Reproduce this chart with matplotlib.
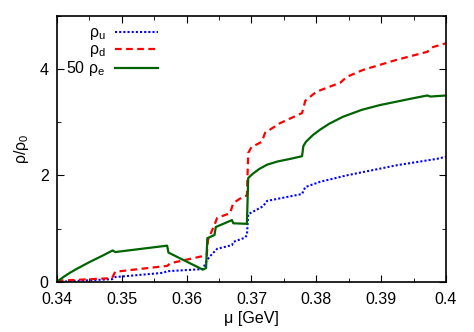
import numpy as np
import matplotlib
matplotlib.use('Agg')
import matplotlib.pyplot as plt
from matplotlib.ticker import MultipleLocator

plt.rcParams['font.family'] = ['Liberation Sans', 'DejaVu Sans']
plt.rcParams['mathtext.fontset'] = 'custom'
plt.rcParams['mathtext.rm'] = 'Liberation Sans'

# rho_u (blue dotted)
mu_u = [0.3400, 0.3485, 0.3490, 0.3564, 0.3570, 0.3625, 0.3631, 0.3636, 0.3647,
        0.3670, 0.3672, 0.3690, 0.3693, 0.3695, 0.3718, 0.3724, 0.3778, 0.3783,
        0.3806, 0.3847, 0.3924, 0.3986, 0.4000]
rho_u = [0.00, 0.05, 0.09, 0.17, 0.20, 0.24, 0.40, 0.48, 0.62,
         0.69, 0.75, 0.83, 0.88, 1.27, 1.42, 1.52, 1.65, 1.78,
         1.88, 2.00, 2.19, 2.31, 2.35]

# rho_d (red dashed)
mu_d = [0.3400, 0.3485, 0.3490, 0.3570, 0.3575, 0.3631, 0.3633, 0.3644, 0.3647,
        0.3667, 0.3672, 0.3687, 0.3693, 0.3695, 0.3700, 0.3716, 0.3721, 0.3744,
        0.3778, 0.3783, 0.3800, 0.3837, 0.3847, 0.3872, 0.3924, 0.3971, 0.3980,
        0.4000]
rho_d = [0.02, 0.07, 0.19, 0.30, 0.35, 0.50, 0.79, 1.10, 1.20,
         1.29, 1.48, 1.60, 1.62, 2.42, 2.53, 2.63, 2.80, 2.98,
         3.17, 3.40, 3.57, 3.74, 3.85, 3.98, 4.17, 4.32, 4.41,
         4.48]

# 50 rho_e (green solid)
mu_e = [0.3400, 0.3410, 0.3420, 0.3430, 0.3450, 0.3470, 0.3486, 0.3490, 0.3570,
        0.3572, 0.3625, 0.3630, 0.3632, 0.3643, 0.3645, 0.3670, 0.3672, 0.3693,
        0.3695, 0.3702, 0.3712, 0.3724, 0.3740, 0.3760, 0.3778, 0.3780, 0.3784,
        0.3795, 0.3806, 0.3820, 0.3841, 0.3870, 0.3898, 0.3930, 0.3950, 0.3971,
        0.3976, 0.4000]
rho_e = [0.00, 0.09, 0.17, 0.24, 0.37, 0.49, 0.59, 0.56, 0.68,
         0.55, 0.23, 0.26, 0.82, 0.88, 1.03, 1.16, 1.10, 1.09,
         1.95, 2.03, 2.12, 2.20, 2.26, 2.31, 2.36, 2.55, 2.63,
         2.76, 2.86, 2.97, 3.10, 3.23, 3.32, 3.40, 3.45, 3.50,
         3.48, 3.50]

fig = plt.figure(figsize=(4.74, 3.32), dpi=100)
ax = fig.add_axes([0.120, 0.151, 0.821, 0.802])

ax.plot(mu_u, rho_u, color='#0000ff', lw=1.5, linestyle=(0, (1, 1)),
        label=r'ρ$_\mathregular{u}$')
ax.plot(mu_d, rho_d, color='#ff0000', lw=1.6, linestyle=(0, (3, 2)),
        label=r'ρ$_\mathregular{d}$')
ax.plot(mu_e, rho_e, color='#006400', lw=1.6,
        label=r'50 ρ$_\mathregular{e}$')

ax.set_xlim(0.34, 0.4)
ax.set_ylim(0, 5)
ax.xaxis.set_minor_locator(MultipleLocator(0.005))
ax.yaxis.set_major_locator(MultipleLocator(2))
ax.yaxis.set_minor_locator(MultipleLocator(1))
ax.set_xticks([0.34, 0.35, 0.36, 0.37, 0.38, 0.39, 0.4])
ax.set_xticklabels(['0.34', '0.35', '0.36', '0.37', '0.38', '0.39', '0.4'])
ax.tick_params(which='both', direction='in', top=True, right=True, labelsize=11.5)
ax.tick_params(axis='x', which='major', length=5, pad=7)
ax.tick_params(axis='y', which='major', length=5, pad=6)
ax.tick_params(which='minor', length=3)
for s in ax.spines.values():
    s.set_linewidth(1.2)

ax.set_xlabel('μ [GeV]', fontsize=11.5, labelpad=3)
ax.set_ylabel(r'ρ/ρ$_\mathregular{0}$', fontsize=11.5, labelpad=6)

ax.legend(loc='upper left', bbox_to_anchor=(0.0, 1.0), frameon=False,
          fontsize=11.5, markerfirst=False, handlelength=2.7, handletextpad=0.6,
          labelspacing=0.0, borderaxespad=0.2)

fig.savefig('out.png', dpi=100)
